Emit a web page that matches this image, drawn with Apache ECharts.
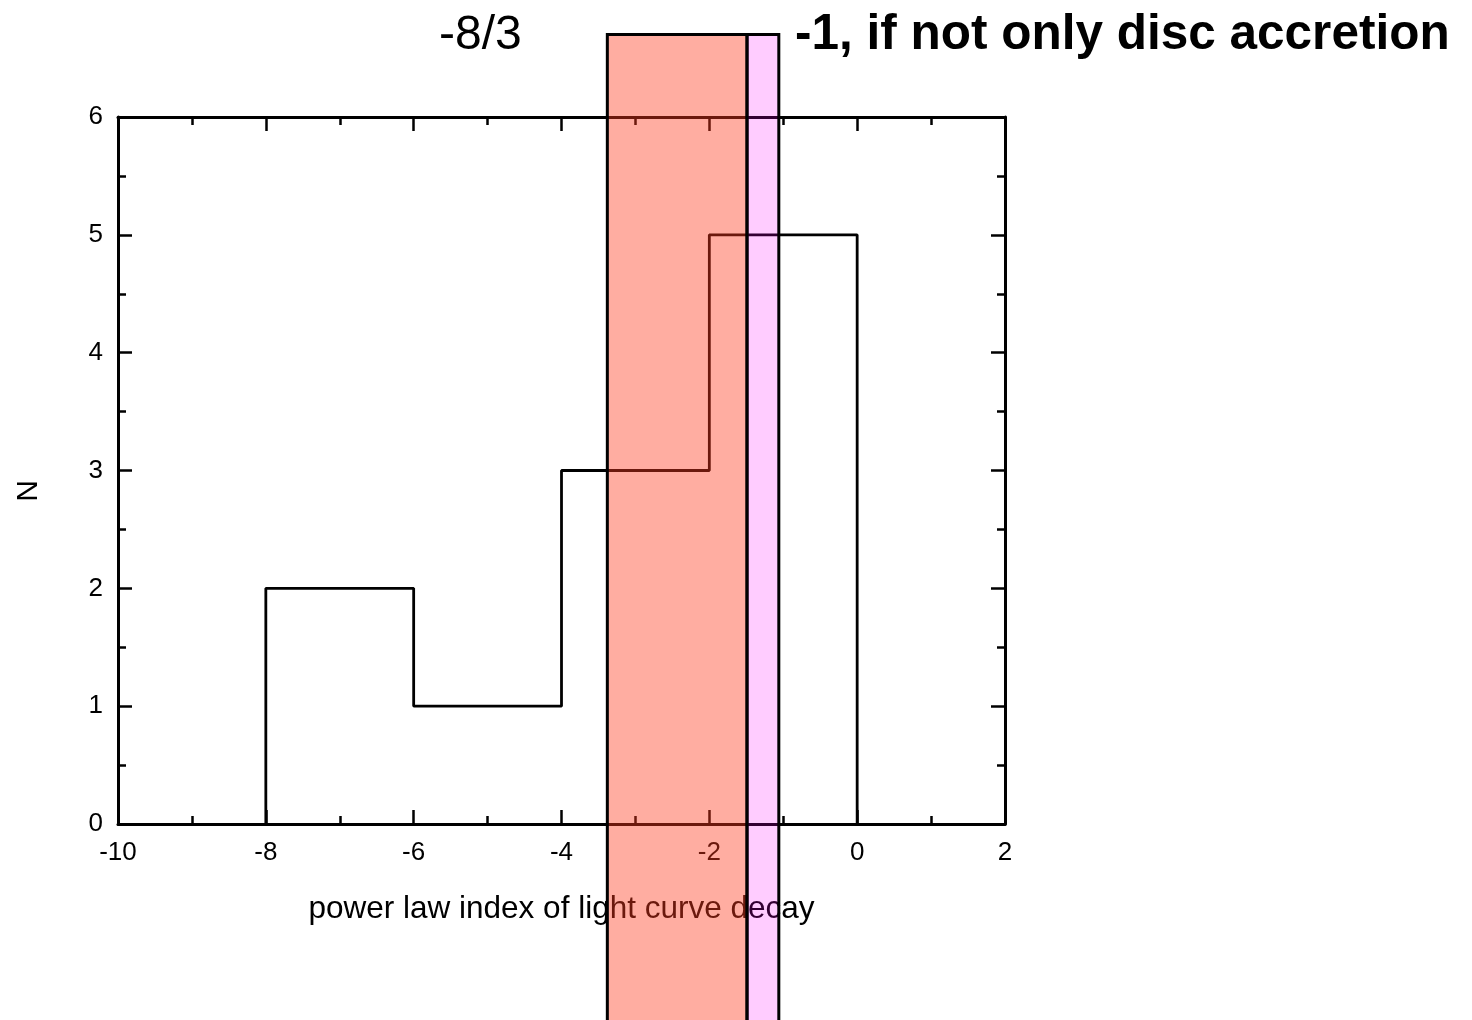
<!DOCTYPE html>
<html>
<head>
<meta charset="utf-8">
<script src="https://cdn.jsdelivr.net/npm/echarts@6/dist/echarts.min.js"></script>
<style>
html,body{margin:0;padding:0;background:#fff;}
#chart{width:1472px;height:1020px;}
</style>
</head>
<body>
<div id="chart"></div>
<script>
// ---- data ----
const binEdges = [-8, -6, -4, -2, 0];
const counts = [2, 1, 3, 5];
const xRange = [-10, 2];
const yRange = [0, 6];
const bandEdges = [-3.38, -1.49, -1.06];   // red band: [0]-[1], pink band: [1]-[2]
const bandYTop = 6.70;
const bandYBottom = -2;
const xAxisTitle = 'power law index of light curve decay';
const yAxisTitle = 'N';
const noteLeft = '-8/3';
const noteRight = '-1, if not only disc accretion';

// ---- styles ----
const FONT = '"Liberation Sans", Arial, Helvetica, sans-serif';
const bandFills = ['rgba(255,60,30,0.42)', 'rgba(255,0,255,0.2)'];

// histogram outline built from edges & counts
const histPts = [[binEdges[0], 0]];
for (let i = 0; i < counts.length; i++) {
  histPts.push([binEdges[i], counts[i]]);
  histPts.push([binEdges[i + 1], counts[i]]);
}
histPts.push([binEdges[binEdges.length - 1], 0]);

const bandData = [];
for (let i = 0; i < bandEdges.length - 1; i++) {
  bandData.push([bandEdges[i], bandEdges[i + 1], bandYBottom, bandYTop, i]);
}

const axisLine = { show: true, onZero: false, lineStyle: { color: '#000', width: 3 } };
const axisTick = { show: true, inside: true, length: 14, lineStyle: { color: '#000', width: 2.5 } };
const minorTick = { show: true, splitNumber: 2, length: 8, lineStyle: { color: '#000', width: 2.5 } };

const chart = echarts.init(document.getElementById('chart'), null, { renderer: 'canvas' });
chart.setOption({
  animation: false,
  backgroundColor: '#fff',
  grid: { left: 118, right: 467, top: 117, bottom: 196, containLabel: false },
  xAxis: [
    {
      type: 'value', min: xRange[0], max: xRange[1], interval: 2, position: 'bottom',
      axisLine, axisTick, minorTick,
      splitLine: { show: false },
      axisLabel: { color: '#000', fontSize: 26, fontFamily: FONT, margin: 16 },
      name: xAxisTitle, nameLocation: 'middle', nameGap: 69,
      nameTextStyle: { color: '#000', fontSize: 31.5, fontFamily: FONT }
    },
    {
      type: 'value', min: xRange[0], max: xRange[1], interval: 2, position: 'top',
      axisLine, axisTick, minorTick,
      splitLine: { show: false }, axisLabel: { show: false }
    }
  ],
  yAxis: [
    {
      type: 'value', min: yRange[0], max: yRange[1], interval: 1, position: 'left',
      axisLine, axisTick, minorTick,
      splitLine: { show: false },
      axisLabel: { color: '#000', fontSize: 26, fontFamily: FONT, margin: 15 }
    },
    {
      type: 'value', min: yRange[0], max: yRange[1], interval: 1, position: 'right',
      axisLine, axisTick, minorTick,
      splitLine: { show: false }, axisLabel: { show: false }
    }
  ],
  series: [
    {
      type: 'line', xAxisIndex: 0, yAxisIndex: 0,
      data: histPts, showSymbol: false, symbol: 'none',
      lineStyle: { color: '#000', width: 2.8 }, z: 3
    },
    {
      type: 'custom', xAxisIndex: 0, yAxisIndex: 0, clip: false, z: 20,
      data: bandData,
      encode: { x: [0, 1], y: [2, 3] },
      renderItem: function (params, api) {
        const p0 = api.coord([api.value(0), api.value(3)]);
        const p1 = api.coord([api.value(1), api.value(2)]);
        return {
          type: 'rect',
          shape: { x: p0[0], y: p0[1], width: p1[0] - p0[0], height: p1[1] - p0[1] },
          style: { fill: bandFills[api.value(4)], stroke: '#000', lineWidth: 3 }
        };
      }
    }
  ],
  graphic: [
    {
      type: 'text', left: 439, top: 12, z: 30,
      style: { text: noteLeft, fill: '#000', font: '48px ' + FONT }
    },
    {
      type: 'text', left: 795, top: 10, z: 30,
      style: { text: noteRight, fill: '#000', font: 'bold 49.5px ' + FONT }
    },
    {
      type: 'text', x: 29, y: 491, rotation: Math.PI / 2, z: 30,
      style: { text: yAxisTitle, fill: '#000', font: '30px ' + FONT, align: 'center', verticalAlign: 'middle' }
    }
  ]
});
</script>
</body>
</html>
